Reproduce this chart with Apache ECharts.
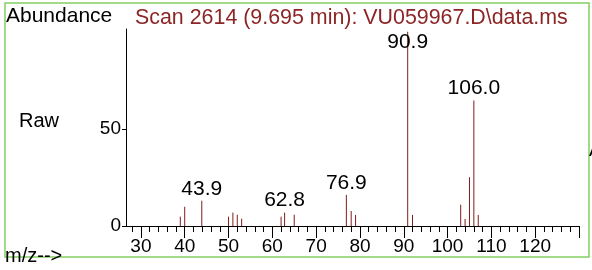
<!DOCTYPE html>
<html>
<head>
<meta charset="utf-8">
<script src="https://cdn.jsdelivr.net/npm/echarts@6/dist/echarts.min.js"></script>
<style>
  html, body { margin: 0; padding: 0; background: #fff; }
  #chart { width: 592px; height: 270px; }
</style>
</head>
<body>
<div id="chart"></div>
<script>
// 质谱峰 (m/z, 相对丰度)
var mz = [39, 40, 43.9, 50, 51, 52, 53, 62, 62.8, 65, 76.9, 78, 79, 90.9, 92, 103, 104, 105, 106.0, 107]
var abundance = [4.8, 9.9, 13.0, 4.8, 6.9, 5.8, 3.8, 4.8, 6.9, 5.8, 16.0, 7.7, 5.7, 100, 5.7, 11.0, 3.6, 25.1, 64.6, 5.7]

// 标注的峰
var labelMz = [43.9, 62.8, 76.9, 90.9, 106.0]
var labelText = ['43.9', '62.8', '76.9', '90.9', '106.0']

// 坐标刻度
var xMajorTicks = [30, 40, 50, 60, 70, 80, 90, 100, 110, 120, 130]
var xLabels = [30, 40, 50, 60, 70, 80, 90, 100, 110, 120]
var xMinorTicks = [28, 32, 34, 36, 38, 42, 44, 46, 48, 52, 54, 56, 58, 62, 64, 66, 68, 72, 74, 76, 78,
  82, 84, 86, 88, 92, 94, 96, 98, 102, 104, 106, 108, 112, 114, 116, 118, 122, 124, 126, 128]
var yTicks = [0, 50]

var title = 'Scan 2614 (9.695 min): VU059967.D\\data.ms'
var lineColor = '#801c1c'
var font = '"Liberation Sans", Arial, sans-serif'

var chart = echarts.init(document.getElementById('chart'))

function peakOf(m) {
  return abundance[mz.indexOf(m)]
}

var labelData = labelMz.map(function (m, i) {
  return [m, peakOf(m), labelText[i]]
})

var option = {
  animation: false,
  grid: { left: 126, right: 13, top: 29, bottom: 44 },
  xAxis: [
    {
      type: 'value', min: 26.6, max: 130, position: 'bottom',
      axisLine: { show: true, lineStyle: { color: '#000', width: 1 } },
      axisTick: { show: true, customValues: xMajorTicks, length: 12, lineStyle: { color: '#000' } },
      axisLabel: { customValues: xLabels, color: '#000', fontSize: 19, fontFamily: font, margin: 11 },
      splitLine: { show: false }
    },
    {
      type: 'value', min: 26.6, max: 130, position: 'bottom', offset: 0,
      axisLine: { show: false },
      axisTick: { show: true, customValues: xMinorTicks, length: 6, lineStyle: { color: '#000' } },
      axisLabel: { show: false },
      splitLine: { show: false }
    }
  ],
  yAxis: {
    type: 'value', min: 0, max: 101.4,
    axisLine: { show: true, lineStyle: { color: '#000', width: 1 } },
    axisTick: { show: true, customValues: yTicks, length: 4, lineStyle: { color: '#000' } },
    axisLabel: { customValues: yTicks, color: '#000', fontSize: 19, fontFamily: font, margin: 5 },
    splitLine: { show: false }
  },
  graphic: [
    {
      type: 'rect', silent: true, z: 0,
      shape: { x: 5, y: 3, width: 584, height: 254 },
      style: { fill: null, stroke: '#82cf62', lineWidth: 1.5 }
    },
    {
      type: 'text', left: 6, top: 6,
      style: { text: 'Abundance', fill: '#000', font: '21px ' + font }
    },
    {
      type: 'text', left: 135, top: 8,
      style: { text: title, fill: '#8c2626', font: '21.4px ' + font }
    },
    {
      type: 'text', left: 19, top: 111,
      style: { text: 'Raw', fill: '#000', font: '20px ' + font }
    },
    {
      type: 'text', left: 5, top: 246,
      style: { text: 'm/z-->', fill: '#000', font: '20px ' + font }
    },
    {
      // 右侧边缘被截断的字
      type: 'text', x: 589, y: 140,
      style: { text: 'A', fill: '#000', font: '20px ' + font }
    }
  ],
  series: [
    {
      // 峰线
      type: 'custom',
      xAxisIndex: 0,
      data: mz.map(function (m, i) { return [m, abundance[i]] }),
      renderItem: function (params, api) {
        var p0 = api.coord([api.value(0), 0])
        var p1 = api.coord([api.value(0), api.value(1)])
        return {
          type: 'line',
          shape: { x1: p0[0], y1: p0[1], x2: p1[0], y2: p1[1] },
          style: { stroke: lineColor, lineWidth: 1 }
        }
      }
    },
    {
      // 峰标注
      type: 'custom',
      xAxisIndex: 0,
      data: labelData,
      renderItem: function (params, api) {
        var p = api.coord([api.value(0), api.value(1)])
        var d = labelData[params.dataIndex]
        return {
          type: 'text',
          x: p[0],
          y: Math.max(p[1] - 12, 42),
          style: {
            text: d[2], fill: '#000', font: '21px ' + font,
            textAlign: 'center', textVerticalAlign: 'middle'
          }
        }
      }
    }
  ]
}

chart.setOption(option)
</script>
</body>
</html>
